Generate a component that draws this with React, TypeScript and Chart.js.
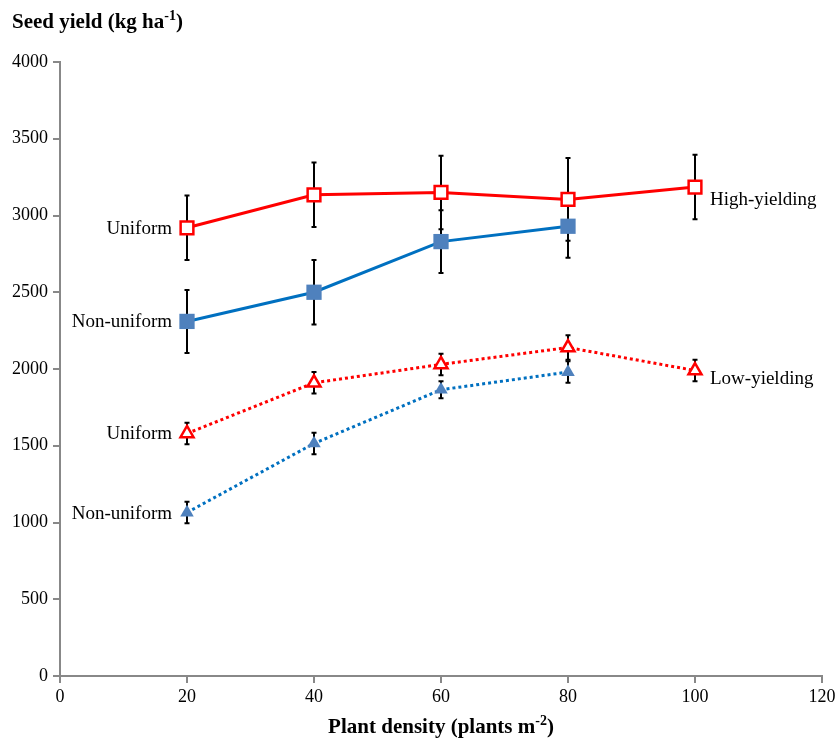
import React, { useEffect, useRef } from "react";
import { Chart, registerables } from "chart.js";

Chart.register(...registerables);

const densities = [20, 40, 60, 80, 100];
const densitiesShort = [20, 40, 60, 80];

const hyUniform = [2920, 3135, 3150, 3105, 3185];
const hyUniformErr = [210, 210, 240, 270, 210];
const hyNonUniform = [2310, 2500, 2830, 2930];
const hyNonUniformErr = [205, 210, 205, 205];
const lyUniform = [1580, 1910, 2030, 2140, 1990];
const lyUniformErr = [70, 70, 70, 80, 70];
const lyNonUniform = [1065, 1515, 1865, 1980];
const lyNonUniformErr = [70, 70, 55, 70];

const xTicks = [0, 20, 40, 60, 80, 100, 120];
const yTicks = [0, 500, 1000, 1500, 2000, 2500, 3000, 3500, 4000];

const FONT = "'Liberation Serif', 'Times New Roman', serif";

const toPts = (xs: number[], ys: number[]) => xs.map((x, i) => ({ x, y: ys[i] }));

const errorBarPlugin = {
  id: "errorBars",
  beforeDatasetsDraw(chart: any) {
    const ctx = chart.ctx;
    const xs = chart.scales.x;
    const ys = chart.scales.y;
    ctx.save();
    ctx.strokeStyle = "#000";
    ctx.lineWidth = 2;
    chart.data.datasets.forEach((ds: any) => {
      const errs: number[] = ds.errors || [];
      ds.data.forEach((p: any, i: number) => {
        const e = errs[i];
        if (!e) return;
        const px = xs.getPixelForValue(p.x);
        const top = ys.getPixelForValue(p.y + e);
        const bot = ys.getPixelForValue(p.y - e);
        ctx.beginPath();
        ctx.moveTo(px, top);
        ctx.lineTo(px, bot);
        ctx.moveTo(px - 2.5, top);
        ctx.lineTo(px + 2.5, top);
        ctx.moveTo(px - 2.5, bot);
        ctx.lineTo(px + 2.5, bot);
        ctx.stroke();
      });
    });
    ctx.restore();
  },
};

const textPlugin = {
  id: "texts",
  afterDraw(chart: any) {
    const ctx = chart.ctx;
    const xs = chart.scales.x;
    const ys = chart.scales.y;
    ctx.save();
    ctx.fillStyle = "#000";
    ctx.textBaseline = "alphabetic";

    // Y title with superscript
    ctx.textAlign = "left";
    ctx.font = `bold 21px ${FONT}`;
    let x = 12;
    const yb = 28;
    const t1 = "Seed yield (kg ha";
    ctx.fillText(t1, x, yb);
    x += ctx.measureText(t1).width;
    ctx.font = `bold 14px ${FONT}`;
    ctx.fillText("-1", x, yb - 8);
    x += ctx.measureText("-1").width;
    ctx.font = `bold 21px ${FONT}`;
    ctx.fillText(")", x, yb);

    // X title with superscript
    const a = "Plant density (plants m";
    const s = "-2";
    const c = ")";
    ctx.font = `bold 21px ${FONT}`;
    const wa = ctx.measureText(a).width;
    const wc = ctx.measureText(c).width;
    ctx.font = `bold 14px ${FONT}`;
    const ws = ctx.measureText(s).width;
    const total = wa + ws + wc;
    const cx = (chart.chartArea.left + chart.chartArea.right) / 2;
    let xx = cx - total / 2;
    const xb = 733;
    ctx.font = `bold 21px ${FONT}`;
    ctx.fillText(a, xx, xb);
    xx += wa;
    ctx.font = `bold 14px ${FONT}`;
    ctx.fillText(s, xx, xb - 8);
    xx += ws;
    ctx.font = `bold 21px ${FONT}`;
    ctx.fillText(c, xx, xb);

    // Series labels
    ctx.font = `19px ${FONT}`;
    ctx.textBaseline = "middle";
    const leftLabel = (txt: string, vx: number, vy: number) => {
      ctx.textAlign = "right";
      ctx.fillText(txt, xs.getPixelForValue(vx) - 15, ys.getPixelForValue(vy) + 1);
    };
    const rightLabel = (txt: string, vx: number, vy: number) => {
      ctx.textAlign = "left";
      ctx.fillText(txt, xs.getPixelForValue(vx) + 15, ys.getPixelForValue(vy) + 1);
    };
    leftLabel("Uniform", densities[0], hyUniform[0]);
    leftLabel("Non-uniform", densitiesShort[0], hyNonUniform[0]);
    leftLabel("Uniform", densities[0], lyUniform[0]);
    leftLabel("Non-uniform", densitiesShort[0], lyNonUniform[0]);
    rightLabel("High-yielding", densities[4], hyUniform[4] - 80);
    rightLabel("Low-yielding", densities[4], lyUniform[4] - 50);
    ctx.restore();
  },
};

export default function App() {
  const ref = useRef<HTMLCanvasElement | null>(null);
  useEffect(() => {
    if (!ref.current) return;
    const chart = new Chart(ref.current, {
      type: "line",
      data: {
        datasets: [
          {
            label: "High-yielding Uniform",
            data: toPts(densities, hyUniform),
            errors: hyUniformErr,
            borderColor: "#FF0000",
            borderWidth: 3,
            pointStyle: "rect",
            pointRadius: 9,
            pointBorderWidth: 2.5,
            pointBackgroundColor: "#FFFFFF",
            pointBorderColor: "#FF0000",
            order: 2,
          } as any,
          {
            label: "High-yielding Non-uniform",
            data: toPts(densitiesShort, hyNonUniform),
            errors: hyNonUniformErr,
            borderColor: "#0070C0",
            borderWidth: 3,
            pointStyle: "rect",
            pointRadius: 10.8,
            pointBorderWidth: 0,
            pointBackgroundColor: "#4F81BD",
            pointBorderColor: "#4F81BD",
            order: 1,
          } as any,
          {
            label: "Low-yielding Uniform",
            data: toPts(densities, lyUniform),
            errors: lyUniformErr,
            borderColor: "#FF0000",
            borderWidth: 3,
            borderDash: [3, 3],
            pointStyle: "triangle",
            pointRadius: 7.5,
            pointBorderWidth: 2.5,
            pointBackgroundColor: "#FFFFFF",
            pointBorderColor: "#FF0000",
            order: 4,
          } as any,
          {
            label: "Low-yielding Non-uniform",
            data: toPts(densitiesShort, lyNonUniform),
            errors: lyNonUniformErr,
            borderColor: "#0070C0",
            borderWidth: 3,
            borderDash: [3, 3],
            pointStyle: "triangle",
            pointRadius: 7.8,
            pointBorderWidth: 0,
            pointBackgroundColor: "#4F81BD",
            pointBorderColor: "#4F81BD",
            order: 3,
          } as any,
        ],
      },
      options: {
        responsive: false,
        animation: false,
        layout: { padding: { left: 0, top: 62, right: 18, bottom: 0 } },
        plugins: {
          legend: { display: false },
          tooltip: { enabled: false },
          title: { display: false },
        },
        scales: {
          x: {
            type: "linear",
            min: 0,
            max: 120,
            afterBuildTicks: (scale: any) => {
              scale.ticks = xTicks.map((v) => ({ value: v }));
            },
            afterFit: (scale: any) => {
              scale.height = 62;
            },
            ticks: {
              color: "#000",
              font: { family: FONT, size: 18 },
              padding: 3,
              maxRotation: 0,
              callback: (v: any) => String(v),
            },
            grid: {
              display: true,
              drawOnChartArea: false,
              drawTicks: true,
              tickLength: 7,
              color: "#888888",
              lineWidth: 2,
            },
            border: { display: true, color: "#888888", width: 2 },
          },
          y: {
            type: "linear",
            min: 0,
            max: 4000,
            afterBuildTicks: (scale: any) => {
              scale.ticks = yTicks.map((v) => ({ value: v }));
            },
            afterFit: (scale: any) => {
              scale.width = 60;
            },
            ticks: {
              color: "#000",
              font: { family: FONT, size: 18 },
              padding: 5,
              callback: (v: any) => String(v),
            },
            grid: {
              display: true,
              drawOnChartArea: false,
              drawTicks: true,
              tickLength: 7,
              color: "#888888",
              lineWidth: 2,
            },
            border: { display: true, color: "#888888", width: 2 },
          },
        },
      } as any,
      plugins: [errorBarPlugin, textPlugin],
    });
    return () => chart.destroy();
  }, []);
  return (
    <div style={{ position: "absolute", left: 0, top: 0, width: 840, height: 738, background: "#fff" }}>
      <canvas ref={ref} width={840} height={738} style={{ width: 840, height: 738 }} />
    </div>
  );
}
